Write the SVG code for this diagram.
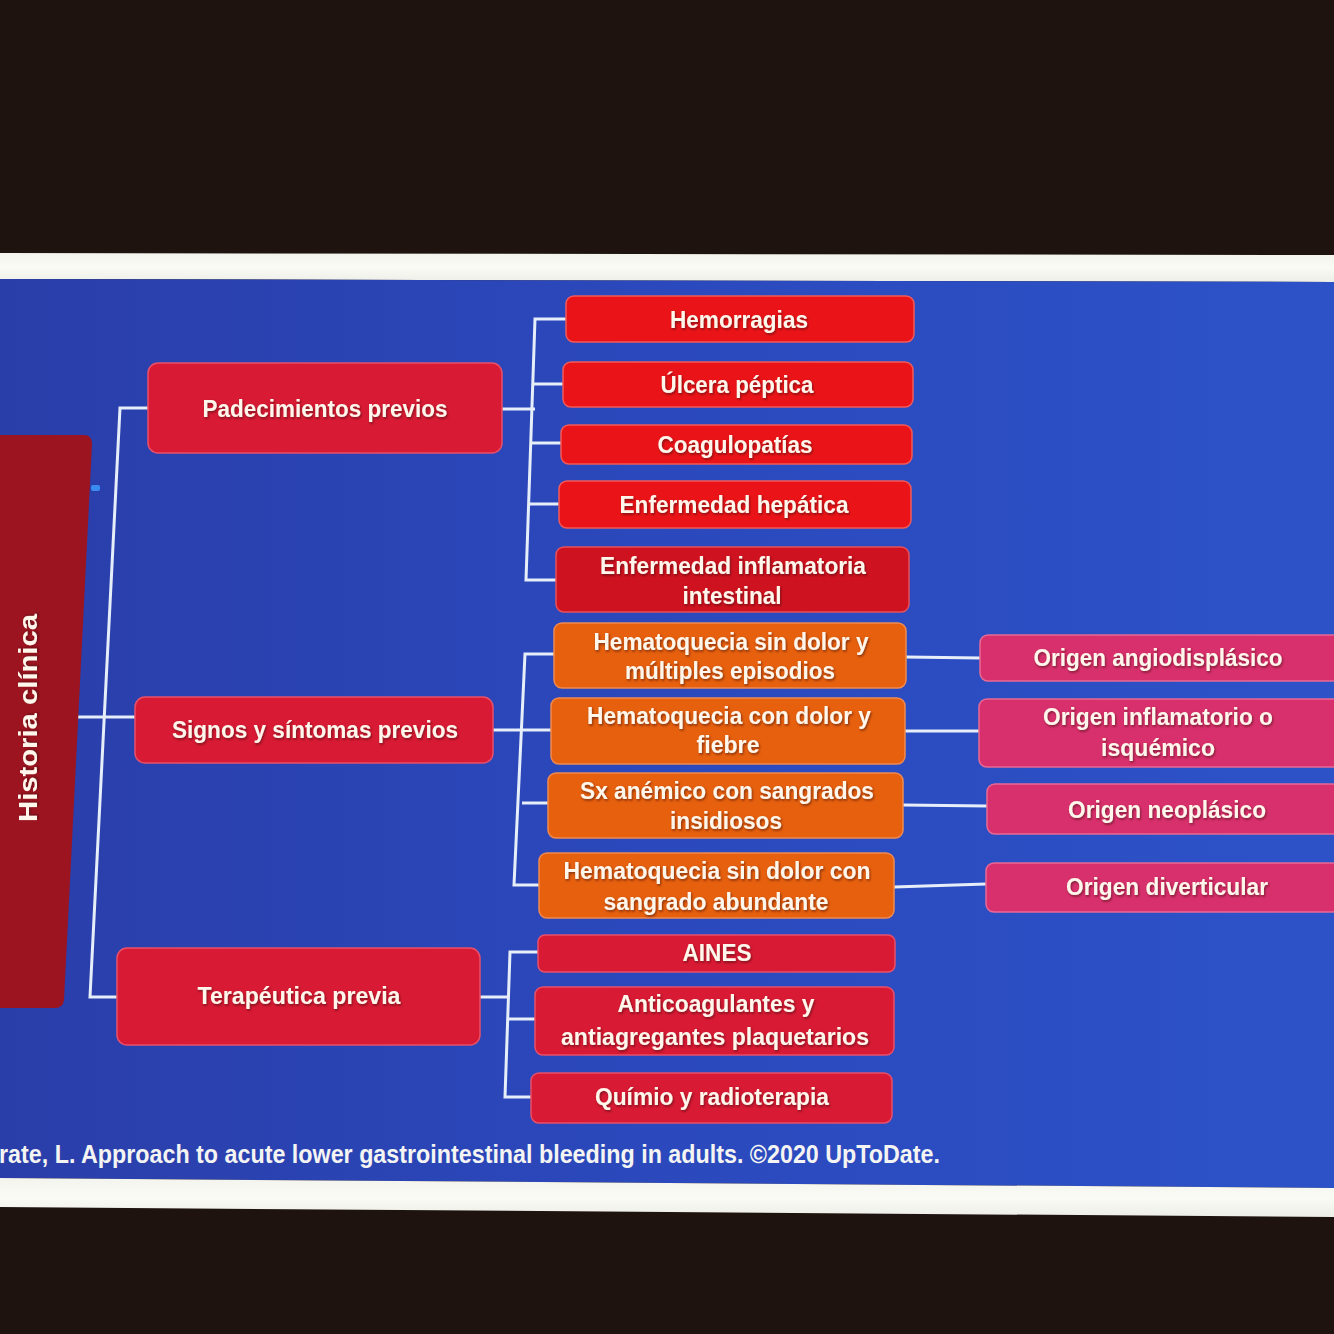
<svg xmlns="http://www.w3.org/2000/svg" width="1334" height="1334" viewBox="0 0 1334 1334">
<defs>
<linearGradient id="bg" x1="0" y1="0" x2="1" y2="0">
<stop offset="0" stop-color="#2a3ea9"/>
<stop offset="0.5" stop-color="#2b49bd"/>
<stop offset="1" stop-color="#2d52c8"/>
</linearGradient>
<linearGradient id="wb" x1="0" y1="0" x2="0" y2="1">
<stop offset="0" stop-color="#f4f4ee"/>
<stop offset="0.5" stop-color="#fbfbf6"/>
<stop offset="1" stop-color="#eeeee8"/>
</linearGradient>
<filter id="soft" x="-5%" y="-20%" width="110%" height="140%">
<feGaussianBlur stdDeviation="1.2"/>
</filter>
<filter id="ts" x="-5%" y="-30%" width="110%" height="160%">
<feDropShadow dx="1" dy="1.5" stdDeviation="0.8" flood-color="#3a0808" flood-opacity="0.6"/>
</filter>
</defs>
<style>
.t{font-family:"Liberation Sans","Open Sans",Arial,sans-serif;font-weight:bold;font-size:23px;fill:#fff6ec;text-anchor:middle;filter:url(#ts)}
.crim{fill:#d81a34;stroke:#e8506a;stroke-width:1.5}
.red{fill:#ea1418;stroke:#f25a5a;stroke-width:1.5}
.dred{fill:#cf1220;stroke:#e8505a;stroke-width:1.5}
.org{fill:#e6600e;stroke:#f08a50;stroke-width:1.5}
.pink{fill:#d8306c;stroke:#e86a94;stroke-width:1.5}
.c{fill:none;stroke:#e6eefa;stroke-width:3;stroke-linejoin:miter}
</style>
<rect x="0" y="0" width="1334" height="1334" fill="#1f130f"/>
<polygon points="0,253 1334,255 1334,282 0,279" fill="url(#wb)"/>
<polygon points="0,279 1334,282 1334,1188 0,1178" fill="url(#bg)"/>
<polygon points="0,1178 1334,1188 1334,1217 0,1207" fill="url(#wb)"/>

<g id="connectors">
<path class="c" d="M148,408 H120 L90,997 H118"/>
<path class="c" d="M78,717 H138"/>
<path class="c" d="M502,409 H535"/>
<path class="c" d="M566,319 H535 L526,580 H557"/>
<path class="c" d="M533,384 H563"/>
<path class="c" d="M531,443 H561"/>
<path class="c" d="M529,504 H559"/>
<path class="c" d="M493,730 H552"/>
<path class="c" d="M554,654 H525 L514,885 H539"/>
<path class="c" d="M522,803 H548"/>
<path class="c" d="M906,657 L980,658"/>
<path class="c" d="M905,731 L979,731"/>
<path class="c" d="M903,805 L987,806"/>
<path class="c" d="M894,887 L986,884"/>
<path class="c" d="M480,997 H508"/>
<path class="c" d="M538,952 H510 L505,1097 H531"/>
<path class="c" d="M507,1019 H535"/>
</g>

<g id="historia">
<path d="M0,435 H84 Q92,435 92,444 L64,1000 Q63,1008 55,1008 H0 Z" fill="#9c1420"/>
<rect x="91" y="485" width="9" height="6" rx="2" fill="#3b8cf0"/>
<text class="t" x="0" y="0" transform="translate(37,718) rotate(-90)" textLength="208" lengthAdjust="spacingAndGlyphs" style="font-size:26px">Historia clínica</text>
</g>

<g id="padecimientos">
<rect class="crim" x="148" y="363" width="354" height="90" rx="10"/>
<text class="t" x="325" y="417" textLength="245" lengthAdjust="spacingAndGlyphs">Padecimientos previos</text>
</g>
<g id="signos">
<rect class="crim" x="135" y="697" width="358" height="66" rx="10"/>
<text class="t" x="315" y="738" textLength="286" lengthAdjust="spacingAndGlyphs">Signos y síntomas previos</text>
</g>
<g id="terapeutica">
<rect class="crim" x="117" y="948" width="363" height="97" rx="10"/>
<text class="t" x="299" y="1004" textLength="203" lengthAdjust="spacingAndGlyphs">Terapéutica previa</text>
</g>

<g id="hemorragias">
<rect class="red" x="566" y="296" width="348" height="46" rx="8"/>
<text class="t" x="739" y="328" textLength="138" lengthAdjust="spacingAndGlyphs">Hemorragias</text>
</g>
<g id="ulcera">
<rect class="red" x="563" y="362" width="350" height="45" rx="8"/>
<text class="t" x="737" y="393" textLength="153" lengthAdjust="spacingAndGlyphs">Úlcera péptica</text>
</g>
<g id="coagulopatias">
<rect class="red" x="561" y="425" width="351" height="39" rx="8"/>
<text class="t" x="735" y="453" textLength="155" lengthAdjust="spacingAndGlyphs">Coagulopatías</text>
</g>
<g id="hepatica">
<rect class="red" x="559" y="481" width="352" height="47" rx="8"/>
<text class="t" x="734" y="513" textLength="229" lengthAdjust="spacingAndGlyphs">Enfermedad hepática</text>
</g>
<g id="inflamatoria">
<rect class="dred" x="556" y="547" width="353" height="65" rx="8"/>
<text class="t" x="733" y="574" textLength="266" lengthAdjust="spacingAndGlyphs">Enfermedad inflamatoria</text>
<text class="t" x="732" y="604" textLength="99" lengthAdjust="spacingAndGlyphs">intestinal</text>
</g>

<g id="hq1">
<rect class="org" x="554" y="623" width="352" height="65" rx="8"/>
<text class="t" x="731" y="650" textLength="275" lengthAdjust="spacingAndGlyphs">Hematoquecia sin dolor y</text>
<text class="t" x="730" y="679" textLength="210" lengthAdjust="spacingAndGlyphs">múltiples episodios</text>
</g>
<g id="hq2">
<rect class="org" x="551" y="698" width="354" height="66" rx="8"/>
<text class="t" x="729" y="724" textLength="284" lengthAdjust="spacingAndGlyphs">Hematoquecia con dolor y</text>
<text class="t" x="728" y="753" textLength="63" lengthAdjust="spacingAndGlyphs">fiebre</text>
</g>
<g id="sx">
<rect class="org" x="548" y="773" width="355" height="65" rx="8"/>
<text class="t" x="727" y="799" textLength="294" lengthAdjust="spacingAndGlyphs">Sx anémico con sangrados</text>
<text class="t" x="726" y="829" textLength="112" lengthAdjust="spacingAndGlyphs">insidiosos</text>
</g>
<g id="hq3">
<rect class="org" x="539" y="853" width="355" height="65" rx="8"/>
<text class="t" x="717" y="879" textLength="307" lengthAdjust="spacingAndGlyphs">Hematoquecia sin dolor con</text>
<text class="t" x="716" y="910" textLength="225" lengthAdjust="spacingAndGlyphs">sangrado abundante</text>
</g>

<g id="angio">
<rect class="pink" x="980" y="635" width="364" height="46" rx="8"/>
<text class="t" x="1158" y="666" textLength="249" lengthAdjust="spacingAndGlyphs">Origen angiodisplásico</text>
</g>
<g id="inflam">
<rect class="pink" x="979" y="699" width="365" height="68" rx="8"/>
<text class="t" x="1158" y="725" textLength="230" lengthAdjust="spacingAndGlyphs">Origen inflamatorio o</text>
<text class="t" x="1158" y="756" textLength="114" lengthAdjust="spacingAndGlyphs">isquémico</text>
</g>
<g id="neo">
<rect class="pink" x="987" y="784" width="357" height="50" rx="8"/>
<text class="t" x="1167" y="818" textLength="198" lengthAdjust="spacingAndGlyphs">Origen neoplásico</text>
</g>
<g id="divert">
<rect class="pink" x="986" y="863" width="358" height="49" rx="8"/>
<text class="t" x="1167" y="895" textLength="202" lengthAdjust="spacingAndGlyphs">Origen diverticular</text>
</g>

<g id="aines">
<rect class="crim" x="538" y="935" width="357" height="37" rx="7"/>
<text class="t" x="717" y="961" textLength="69" lengthAdjust="spacingAndGlyphs">AINES</text>
</g>
<g id="anticoag">
<rect class="crim" x="535" y="987" width="359" height="68" rx="8"/>
<text class="t" x="716" y="1012" textLength="197" lengthAdjust="spacingAndGlyphs">Anticoagulantes y</text>
<text class="t" x="715" y="1045" textLength="308" lengthAdjust="spacingAndGlyphs">antiagregantes plaquetarios</text>
</g>
<g id="quimio">
<rect class="crim" x="531" y="1073" width="361" height="50" rx="8"/>
<text class="t" x="712" y="1105" textLength="234" lengthAdjust="spacingAndGlyphs">Químio y radioterapia</text>
</g>

<text x="-1" y="1163" textLength="941" lengthAdjust="spacingAndGlyphs" style="font-family:'Liberation Sans','Open Sans',Arial,sans-serif;font-weight:bold;font-size:25px;fill:#f4f4f2">rate, L. Approach to acute lower gastrointestinal bleeding in adults. ©2020 UpToDate.</text>
</svg>
